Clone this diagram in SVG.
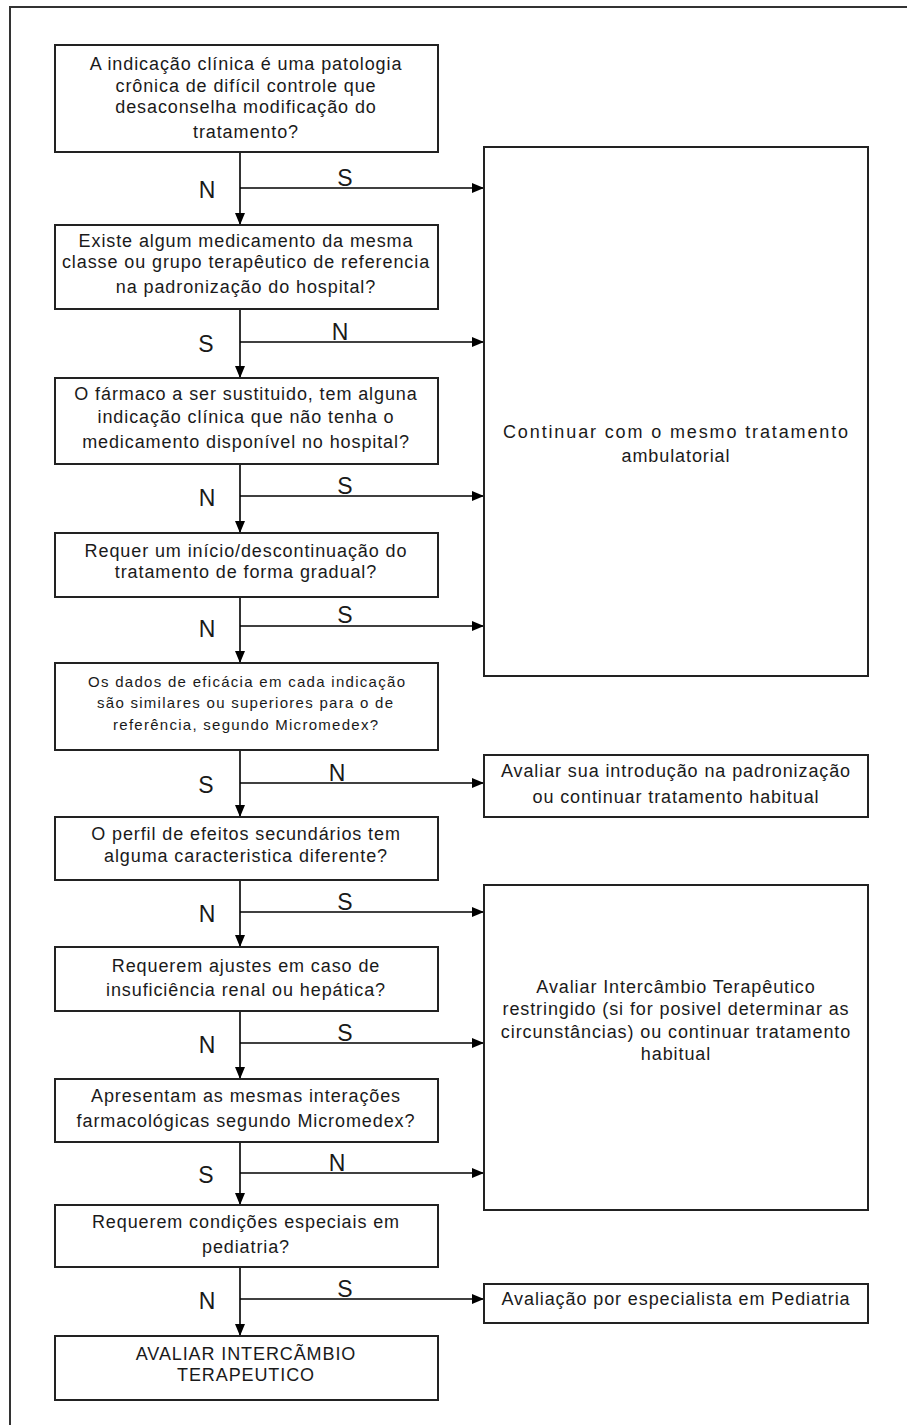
<svg xmlns="http://www.w3.org/2000/svg" width="907" height="1425" viewBox="0 0 907 1425">
<style>
.box{fill:#fff;stroke:#222;stroke-width:2}
.t{font-family:"Liberation Sans",Arial,sans-serif;font-size:18px;letter-spacing:0.9px;fill:#1a1a1a;text-anchor:middle}
.ts{font-family:"Liberation Sans",Arial,sans-serif;font-size:15px;fill:#1a1a1a}
.lbl{font-family:"Liberation Sans",Arial,sans-serif;font-size:23px;fill:#1a1a1a;text-anchor:middle}
.c{stroke:#000;stroke-width:1.6;fill:none;marker-end:url(#ah)}
</style>
<defs>
<marker id="ah" markerUnits="userSpaceOnUse" markerWidth="12" markerHeight="10" refX="12" refY="5" orient="auto">
<path d="M0,0 L12,5 L0,10 z" fill="#000"/>
</marker>
</defs>
<rect width="907" height="1425" fill="#fff"/>
<path d="M10,1425 V7 H907" fill="none" stroke="#333" stroke-width="2"/>

<g id="connectors">
<path class="c" d="M240,152 V225"/>
<path class="c" d="M240,309 V378"/>
<path class="c" d="M240,464 V533"/>
<path class="c" d="M240,597 V663"/>
<path class="c" d="M240,750 V817"/>
<path class="c" d="M240,880 V947"/>
<path class="c" d="M240,1011 V1079"/>
<path class="c" d="M240,1142 V1205"/>
<path class="c" d="M240,1267 V1336"/>
<path class="c" d="M240,188 H484"/>
<path class="c" d="M240,342 H484"/>
<path class="c" d="M240,496 H484"/>
<path class="c" d="M240,626 H484"/>
<path class="c" d="M240,783 H484"/>
<path class="c" d="M240,912 H484"/>
<path class="c" d="M240,1043 H484"/>
<path class="c" d="M240,1173 H484"/>
<path class="c" d="M240,1299 H484"/>
<text class="lbl" x="207" y="198">N</text><text class="lbl" x="345" y="186">S</text>
<text class="lbl" x="206" y="352">S</text><text class="lbl" x="340" y="340">N</text>
<text class="lbl" x="207" y="506">N</text><text class="lbl" x="345" y="494">S</text>
<text class="lbl" x="207" y="637">N</text><text class="lbl" x="345" y="623">S</text>
<text class="lbl" x="206" y="793">S</text><text class="lbl" x="337" y="781">N</text>
<text class="lbl" x="207" y="922">N</text><text class="lbl" x="345" y="910">S</text>
<text class="lbl" x="207" y="1053">N</text><text class="lbl" x="345" y="1041">S</text>
<text class="lbl" x="206" y="1183">S</text><text class="lbl" x="337" y="1171">N</text>
<text class="lbl" x="207" y="1309">N</text><text class="lbl" x="345" y="1297">S</text>
</g>

<g id="q1">
<rect class="box" x="55" y="45" width="383" height="107"/>
<text class="t" x="246" y="70">A indicação clínica é uma patologia</text>
<text class="t" x="246" y="92">crônica de difícil controle que</text>
<text class="t" x="246" y="113">desaconselha modificação do</text>
<text class="t" x="246" y="138">tratamento?</text>
</g>
<g id="q2">
<rect class="box" x="55" y="225" width="383" height="84"/>
<text class="t" x="246" y="247">Existe algum medicamento da mesma</text>
<text class="t" x="246" y="268">classe ou grupo terapêutico de referencia</text>
<text class="t" x="246" y="293">na padronização do hospital?</text>
</g>
<g id="q3">
<rect class="box" x="55" y="378" width="383" height="86"/>
<text class="t" x="246" y="400">O fármaco a ser sustituido, tem alguna</text>
<text class="t" x="246" y="423">indicação clínica que não tenha o</text>
<text class="t" x="246" y="448">medicamento disponível no hospital?</text>
</g>
<g id="q4">
<rect class="box" x="55" y="533" width="383" height="64"/>
<text class="t" x="246" y="557">Requer um início/descontinuação do</text>
<text class="t" x="246" y="578">tratamento de forma gradual?</text>
</g>
<g id="q5">
<rect class="box" x="55" y="663" width="383" height="87"/>
<text class="ts" x="88" y="687" textLength="317" lengthAdjust="spacing">Os dados  de eficácia  em cada indicação</text>
<text class="ts" x="97" y="708" textLength="296" lengthAdjust="spacing">são similares ou superiores  para o de</text>
<text class="ts" x="113" y="730" textLength="265" lengthAdjust="spacing">referência,  segundo  Micromedex?</text>
</g>
<g id="q6">
<rect class="box" x="55" y="817" width="383" height="63"/>
<text class="t" x="246" y="840">O perfil de efeitos secundários tem</text>
<text class="t" x="246" y="862">alguma caracteristica diferente?</text>
</g>
<g id="q7">
<rect class="box" x="55" y="947" width="383" height="64"/>
<text class="t" x="246" y="972">Requerem ajustes em caso de</text>
<text class="t" x="246" y="996">insuficiência renal ou hepática?</text>
</g>
<g id="q8">
<rect class="box" x="55" y="1079" width="383" height="63"/>
<text class="t" x="246" y="1102">Apresentam as mesmas interações</text>
<text class="t" x="246" y="1127">farmacológicas segundo Micromedex?</text>
</g>
<g id="q9">
<rect class="box" x="55" y="1205" width="383" height="62"/>
<text class="t" x="246" y="1228">Requerem condições especiais em</text>
<text class="t" x="246" y="1253">pediatria?</text>
</g>
<g id="final">
<rect class="box" x="55" y="1336" width="383" height="64"/>
<text class="t" x="246" y="1360">AVALIAR INTERCÃMBIO</text>
<text class="t" x="246" y="1381">TERAPEUTICO</text>
</g>
<g id="r1">
<rect class="box" x="484" y="147" width="384" height="529"/>
<text class="t" x="676" y="438" textLength="346" lengthAdjust="spacing">Continuar com o mesmo tratamento</text>
<text class="t" x="676" y="462">ambulatorial</text>
</g>
<g id="r2">
<rect class="box" x="484" y="755" width="384" height="62"/>
<text class="t" x="676" y="777">Avaliar sua introdução na padronização</text>
<text class="t" x="676" y="803">ou continuar tratamento habitual</text>
</g>
<g id="r3">
<rect class="box" x="484" y="885" width="384" height="325"/>
<text class="t" x="676" y="993">Avaliar Intercâmbio Terapêutico</text>
<text class="t" x="676" y="1015">restringido (si for posivel determinar as</text>
<text class="t" x="676" y="1038">circunstâncias) ou continuar tratamento</text>
<text class="t" x="676" y="1060">habitual</text>
</g>
<g id="r4">
<rect class="box" x="484" y="1284" width="384" height="39"/>
<text class="t" x="676" y="1305">Avaliação por especialista em Pediatria</text>
</g>
</svg>
